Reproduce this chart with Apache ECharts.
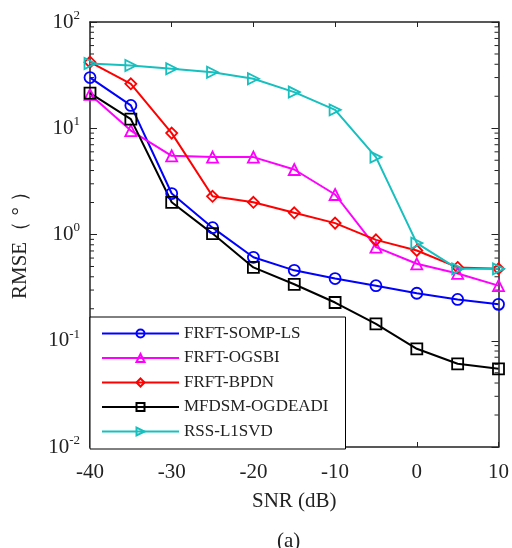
<!DOCTYPE html>
<html>
<head>
<meta charset="utf-8">
<script src="https://cdn.jsdelivr.net/npm/echarts@6/dist/echarts.min.js"></script>
<style>
  html, body { margin: 0; padding: 0; background: #fff; }
  #chart { width: 512px; height: 548px; }
</style>
</head>
<body>
<div id="chart"></div>
<script>
const snr = [-40, -35, -30, -25, -20, -15, -10, -5, 0, 5, 10]

const somp = [30, 16.4, 2.43, 1.16, 0.61, 0.46, 0.385, 0.33, 0.28, 0.245, 0.22]
const ogsbi = [20.8, 9.5, 5.5, 5.35, 5.35, 4.09, 2.38, 0.76, 0.53, 0.43, 0.33]
const bpdn = [41.9, 26.2, 9.0, 2.29, 2.01, 1.6, 1.28, 0.89, 0.707, 0.49, 0.475]
const mfdsm = [21.4, 12.2, 2.01, 1.02, 0.49, 0.34, 0.229, 0.144, 0.084, 0.0607, 0.0544]
const l1svd = [40.7, 38.9, 36.3, 33.7, 29.2, 21.9, 14.9, 5.35, 0.83, 0.475, 0.475]

// minor ticks of the log axis (2..9 x 10^k)
const minorVals = []
for (let k = -2; k < 2; k++) {
  for (let m = 2; m <= 9; m++) minorVals.push(m * Math.pow(10, k))
}

const font = 'Liberation Serif'

function makeSeries(name, data, color, symbol, rotate) {
  return {
    name: name,
    type: 'line',
    data: snr.map((x, i) => [x, data[i]]),
    symbol: symbol,
    symbolSize: 11,
    symbolRotate: rotate || 0,
    lineStyle: { color: color, width: 2 },
    itemStyle: { color: 'rgba(255,255,255,0)', borderColor: color, borderWidth: 1.8 },
    z: 3
  }
}

const axisLine = { show: true, onZero: false, lineStyle: { color: '#222', width: 1.5 } }

const chart = echarts.init(document.getElementById('chart'))

chart.setOption({
  animation: false,
  title: {
    text: '(a)',
    left: 272,
    top: 526,
    textStyle: { fontFamily: font, fontSize: 21, fontWeight: 'normal', color: '#222' }
  },
  grid: { left: 90, right: 9, top: 22, bottom: 101 },
  legend: {
    orient: 'vertical',
    left: 90,
    top: 317,
    padding: [8, 17, 9, 11],
    itemWidth: 77,
    itemHeight: 10,
    itemGap: 7.5,
    backgroundColor: '#fff',
    borderColor: '#000',
    borderWidth: 1,
    borderRadius: 0,
    textStyle: { fontFamily: font, fontSize: 17, color: '#222' },
    data: ['FRFT-SOMP-LS', 'FRFT-OGSBI', 'FRFT-BPDN', 'MFDSM-OGDEADI', 'RSS-L1SVD']
  },
  xAxis: [
    {
      type: 'value',
      min: -40,
      max: 10,
      interval: 10,
      name: 'SNR (dB)',
      nameLocation: 'middle',
      nameGap: 44,
      nameTextStyle: { fontFamily: font, fontSize: 21, color: '#222' },
      axisLine: axisLine,
      axisTick: { inside: true, length: 5, lineStyle: { color: '#222' } },
      axisLabel: { fontFamily: font, fontSize: 21, color: '#222', margin: 15 },
      splitLine: { show: false }
    },
    {
      type: 'value',
      position: 'top',
      min: -40,
      max: 10,
      interval: 10,
      axisLine: axisLine,
      axisTick: { inside: true, length: 5, lineStyle: { color: '#222' } },
      axisLabel: { show: false },
      splitLine: { show: false }
    }
  ],
  yAxis: [
    {
      type: 'log',
      position: 'left',
      min: 0.01,
      max: 100,
      logBase: 10,
      name: 'RMSE（ ° ）',
      nameLocation: 'middle',
      nameGap: 59,
      nameRotate: 90,
      nameTextStyle: { fontFamily: font, fontSize: 21, color: '#222', padding: [0, 11, 0, 0] },
      axisLine: axisLine,
      axisTick: { inside: true, length: 7, lineStyle: { color: '#222' } },
      axisLabel: {
        margin: 10,
        formatter: v => '{b|10}{s|' + Math.round(Math.log10(v)) + '}',
        rich: {
          b: { fontFamily: font, fontSize: 21, color: '#222', lineHeight: 26, verticalAlign: 'middle' },
          s: { fontFamily: font, fontSize: 13, color: '#222', verticalAlign: 'top' }
        }
      },
      splitLine: { show: false }
    },
    {
      type: 'log',
      position: 'right',
      min: 0.01,
      max: 100,
      logBase: 10,
      axisLine: axisLine,
      axisTick: { inside: true, length: 7, lineStyle: { color: '#222' } },
      axisLabel: { show: false },
      splitLine: { show: false }
    }
  ],
  series: [
    makeSeries('FRFT-SOMP-LS', somp, '#0000ff', 'circle'),
    makeSeries('FRFT-OGSBI', ogsbi, '#ff00ff', 'triangle'),
    makeSeries('FRFT-BPDN', bpdn, '#ff0000', 'diamond'),
    makeSeries('MFDSM-OGDEADI', mfdsm, '#000000', 'rect'),
    makeSeries('RSS-L1SVD', l1svd, '#17bfbf', 'triangle', -90),
    {
      type: 'custom',
      silent: true,
      z: 1,
      data: minorVals.map(v => [v]),
      renderItem: function (params, api) {
        const v = api.value(0)
        const pl = api.coord([-40, v])
        const pr = api.coord([10, v])
        return {
          type: 'group',
          children: [
            { type: 'line', shape: { x1: pl[0], y1: pl[1], x2: pl[0] + 4, y2: pl[1] }, style: { stroke: '#222', lineWidth: 1 } },
            { type: 'line', shape: { x1: pr[0], y1: pr[1], x2: pr[0] - 4, y2: pr[1] }, style: { stroke: '#222', lineWidth: 1 } }
          ]
        }
      },
      encode: { y: 0 }
    }
  ]
})
</script>
</body>
</html>
